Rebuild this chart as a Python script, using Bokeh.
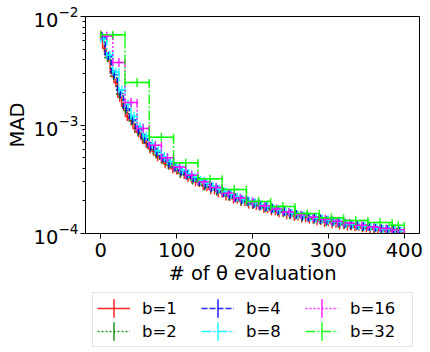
import numpy as np
from bokeh.plotting import figure
from bokeh.layouts import column
from bokeh.models import Legend, LegendItem, ColumnDataSource, FixedTicker, Range1d
from bokeh.embed import file_html
from bokeh.resources import INLINE

# MAD values are given in units of 1e-4
MAD_UNIT = 1e-4

b1_x = list(range(0, 401, 5))
b1_mad = [67, 51, 41, 30, 24.5, 18, 14.8, 12.0, 11.0, 9.3,
          8.5, 7.4, 6.8, 6.0, 5.7, 5.1, 4.85, 4.4, 4.25, 3.95,
          3.85, 3.58, 3.50, 3.28, 3.20, 3.00, 2.95, 2.76, 2.70, 2.55,
          2.52, 2.38, 2.36, 2.22, 2.21, 2.08, 2.08, 1.97, 1.97, 1.87,
          1.86, 1.78, 1.79, 1.70, 1.70, 1.62, 1.63, 1.55, 1.57, 1.49,
          1.50, 1.44, 1.45, 1.39, 1.40, 1.36, 1.35, 1.31, 1.32, 1.27,
          1.28, 1.23, 1.24, 1.20, 1.21, 1.17, 1.18, 1.14, 1.15, 1.12,
          1.12, 1.09, 1.10, 1.07, 1.08, 1.05, 1.06, 1.03, 1.04, 1.01,
          1.02]

b2_x = list(range(1, 400, 8))
b2_mad = [66, 42, 28, 18.8, 13.6, 10.9, 8.7, 7.3, 6.2, 5.4,
          4.85, 4.3, 4.05, 3.6, 3.45, 3.12, 3.0, 2.74, 2.62, 2.45,
          2.36, 2.20, 2.13, 2.0, 1.96, 1.86, 1.80, 1.73, 1.68, 1.60,
          1.57, 1.50, 1.48, 1.42, 1.41, 1.35, 1.34, 1.29, 1.28, 1.24,
          1.22, 1.19, 1.18, 1.14, 1.15, 1.11, 1.10, 1.07, 1.08, 1.04]

b4_x = list(range(2, 400, 8))
b4_mad = [65, 43, 29, 19.5, 14.2, 11.2, 9.0, 7.5, 6.4, 5.6,
          4.95, 4.45, 4.1, 3.75, 3.5, 3.25, 3.05, 2.85, 2.68, 2.55,
          2.40, 2.28, 2.16, 2.06, 1.98, 1.90, 1.83, 1.76, 1.71, 1.64,
          1.60, 1.54, 1.51, 1.46, 1.43, 1.39, 1.36, 1.32, 1.30, 1.27,
          1.24, 1.22, 1.20, 1.17, 1.16, 1.13, 1.12, 1.10, 1.08, 1.06]

b8_x = list(range(4, 400, 8))
b8_mad = [62, 44, 31, 21, 15.5, 12.0, 9.6, 7.9, 6.7, 5.8,
          5.1, 4.6, 4.2, 3.85, 3.55, 3.3, 3.1, 2.9, 2.72, 2.56,
          2.42, 2.30, 2.18, 2.06, 1.97, 1.91, 1.82, 1.77, 1.70, 1.65,
          1.59, 1.55, 1.50, 1.47, 1.42, 1.39, 1.35, 1.33, 1.29, 1.27,
          1.23, 1.22, 1.18, 1.17, 1.14, 1.13, 1.10, 1.10, 1.07, 1.06]

b16_x = list(range(8, 400, 16))
b16_mad = [66, 37.7, 16.1, 9.3, 6.5, 5.0, 4.1, 3.45, 3.0, 2.65,
           2.35, 2.12, 1.95, 1.80, 1.68, 1.58, 1.49, 1.41, 1.35, 1.29,
           1.24, 1.19, 1.15, 1.11, 1.08]

b32_x = [16, 48, 80, 112, 144, 176, 208, 240, 272, 304, 336, 368, 392]
b32_half = [16, 16, 16, 16, 16, 16, 16, 16, 16, 16, 16, 16, 8]
b32_mad = [68, 24.6, 7.7, 4.5, 3.2, 2.54, 1.97, 1.77, 1.53, 1.40, 1.32, 1.26, 1.19]

x_ticks = [0, 100, 200, 300, 400]
y_ticks = [1e-4, 1e-3, 1e-2]

series = [
    ("b=1", b1_x, b1_mad, [0.5] * len(b1_x), "#ff0000", "solid"),
    ("b=2", b2_x, b2_mad, [1] * len(b2_x), "#008000", "2 2"),
    ("b=4", b4_x, b4_mad, [2] * len(b4_x), "#0000ff", "6 2"),
    ("b=8", b8_x, b8_mad, [4] * len(b8_x), "#00ffff", "10 2 2 2"),
    ("b=16", b16_x, b16_mad, [8] * len(b16_x), "#ff00ff", "2 2"),
    ("b=32", b32_x, b32_mad, b32_half, "#00ff00", "10 2 2 2"),
]

FONT = "DejaVu Sans"

p = figure(width=424, height=290, y_axis_type="log",
           x_range=(-20, 420), y_range=(1e-4, 1e-2),
           output_backend="svg", toolbar_location=None,
           min_border_left=85, min_border_top=16, min_border_right=5,
           min_border_bottom=57)
p.background_fill_color = "white"
p.border_fill_color = "white"
p.outline_line_color = "black"
p.outline_line_width = 1
p.xgrid.visible = False
p.ygrid.visible = False

minor = []
for dec in [1e-4, 1e-3]:
    for m in range(2, 10):
        minor.append(m * dec)
p.yaxis.ticker = FixedTicker(ticks=y_ticks, minor_ticks=minor)
p.xaxis.ticker = FixedTicker(ticks=x_ticks)

for ax in (p.xaxis, p.yaxis):
    ax.axis_line_color = "black"
    ax.major_tick_line_color = "black"
    ax.minor_tick_line_color = "black"
    ax.major_tick_in = 0
    ax.major_tick_out = 5
    ax.minor_tick_in = 0
    ax.major_label_text_font = FONT
    ax.major_label_text_font_size = "19.5px"
    ax.major_label_text_color = "black"
    ax.axis_label_text_font = FONT
    ax.axis_label_text_font_size = "19.5px"
    ax.axis_label_text_font_style = "normal"
    ax.axis_label_text_color = "black"
p.xaxis.minor_tick_out = 0
p.yaxis.minor_tick_out = 3
p.xaxis.major_label_standoff = 4
p.yaxis.major_label_standoff = 2
p.xaxis.axis_label = "# of θ evaluation"
p.yaxis.axis_label = "MAD"
p.xaxis.axis_label_standoff = 2
p.yaxis.axis_label_standoff = 2

# separate strip below the plot that only hosts the legend
leg_fig = figure(width=424, height=60, x_axis_type=None, y_axis_type=None,
                 x_range=Range1d(1000, 1001), y_range=Range1d(1000, 1001),
                 output_backend="svg", toolbar_location=None,
                 min_border=0)
leg_fig.outline_line_color = None
leg_fig.background_fill_color = "white"
leg_fig.border_fill_color = "white"

items = []
for label, xs, vals, halfs, color, dash in series:
    ys = [v * MAD_UNIT for v in vals]
    x0 = [x - h for x, h in zip(xs, halfs)]
    x1 = [x + h for x, h in zip(xs, halfs)]
    src = ColumnDataSource(dict(x=xs, y=ys, x0=x0, x1=x1))
    line_style = dict(line_color=color, line_dash=dash, line_width=1.5, line_alpha=0.85)
    bar_style = dict(width=0.01, height=8, width_units="screen", height_units="screen",
                     fill_color=None, line_color=color, line_width=1.5, line_alpha=0.85)
    p.step("x", "y", source=src, mode="center", **line_style)
    if halfs[0] >= 4:
        p.segment(x0="x0", y0="y", x1="x1", y1="y", source=src,
                  line_color=color, line_width=1.5, line_alpha=0.85)
        for key in ("x0", "x1"):
            p.scatter(x=key, y="y", source=src, marker="dash", angle=np.pi / 2,
                      size=7, line_color=color, line_width=1.5, line_alpha=0.85)
    p.ellipse(x="x", y="y", source=src, **bar_style)
    # legend proxies (same data, outside the strip's ranges, so only the legend shows)
    lline = leg_fig.step("x", "y", source=src, mode="center", **line_style)
    lbar = leg_fig.ellipse(x="x", y="y", source=src, **{**bar_style, "height": 18})
    items.append(LegendItem(label=label, renderers=[lline, lbar]))

legend = Legend(items=items, location=(7, 3), ncols=3)
legend.glyph_width = 33
legend.glyph_height = 22
legend.label_standoff = 12
legend.label_width = 58
legend.spacing = 1
legend.padding = 4
legend.margin = 0
legend.label_text_font = FONT
legend.label_text_font_size = "16.5px"
legend.label_text_color = "black"
legend.border_line_color = "#cccccc"
legend.border_line_width = 1
legend.background_fill_alpha = 0.8
leg_fig.add_layout(legend, "center")

layout = column(p, leg_fig, spacing=0)
open("out.html", "w").write(file_html(layout, INLINE))
